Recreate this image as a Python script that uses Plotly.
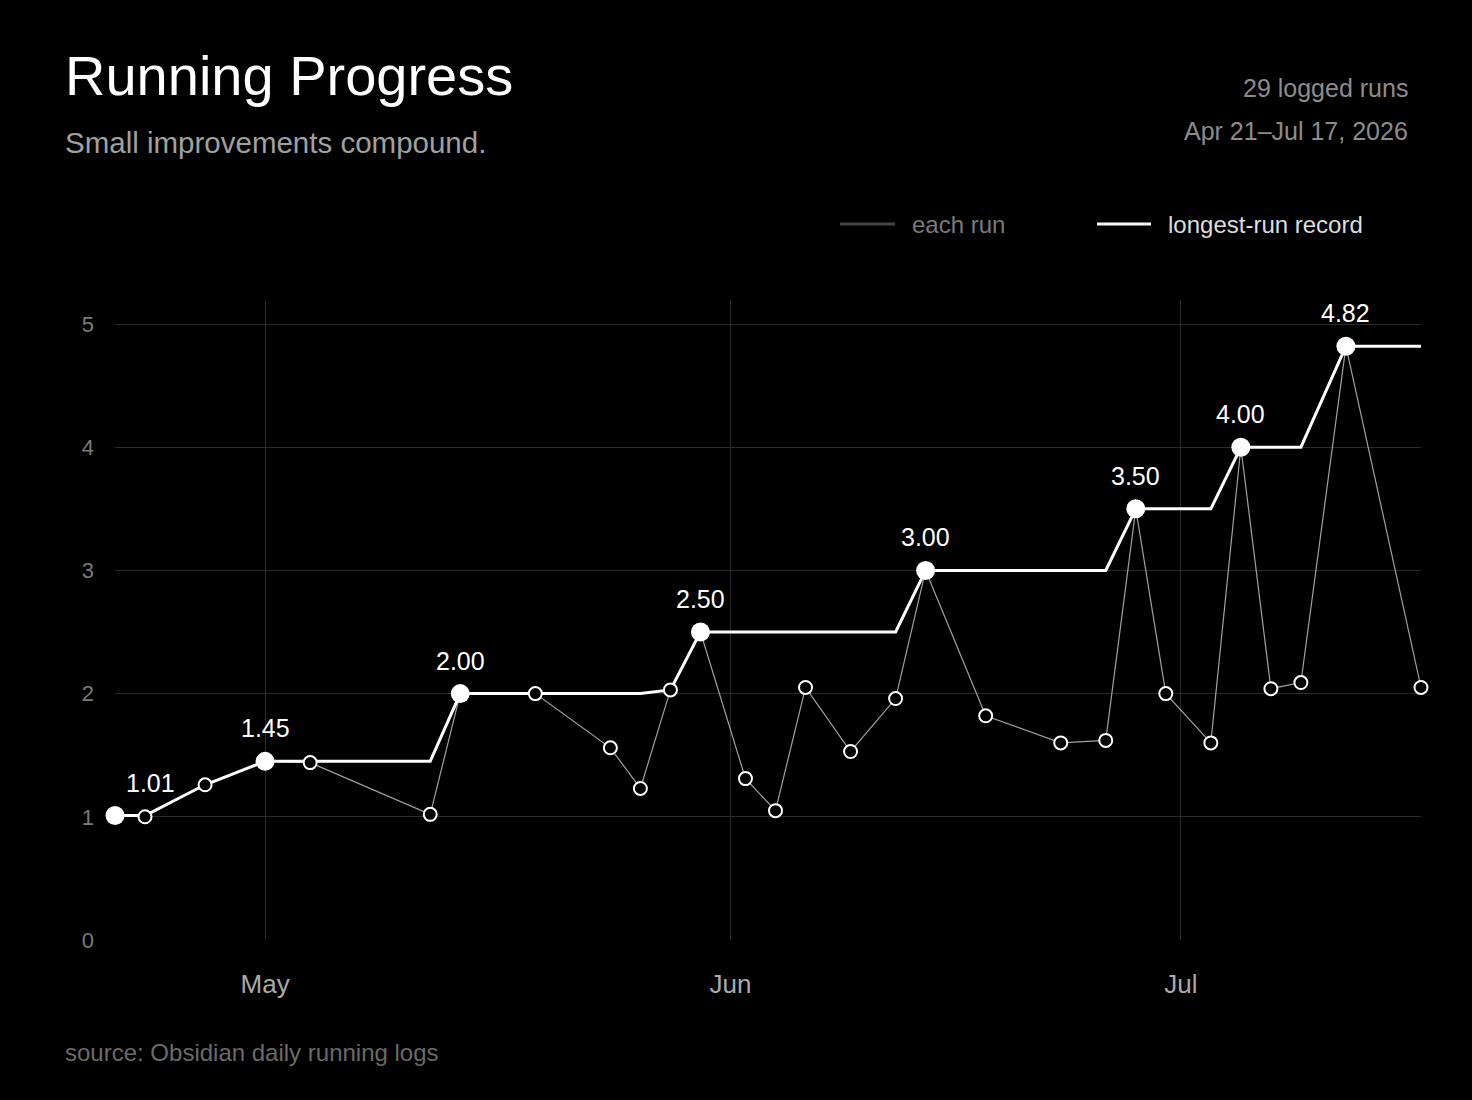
import numpy as np
import plotly.graph_objects as go

# ---- data ----
run_dates = ["2026-04-21", "2026-04-23", "2026-04-27", "2026-05-01", "2026-05-04",
             "2026-05-12", "2026-05-14", "2026-05-19", "2026-05-24", "2026-05-26",
             "2026-05-28", "2026-05-30", "2026-06-02", "2026-06-04", "2026-06-06",
             "2026-06-09", "2026-06-12", "2026-06-14", "2026-06-18", "2026-06-23",
             "2026-06-26", "2026-06-28", "2026-06-30", "2026-07-03", "2026-07-05",
             "2026-07-07", "2026-07-09", "2026-07-12", "2026-07-17"]
run_km = [1.01, 1.00, 1.26, 1.45, 1.44, 1.02, 2.00, 2.00, 1.56, 1.23,
          2.03, 2.50, 1.31, 1.05, 2.05, 1.53, 1.96, 3.00, 1.82, 1.60,
          1.62, 3.50, 2.00, 1.60, 4.00, 2.04, 2.09, 4.82, 2.05]
milestone_idx = [0, 3, 6, 11, 17, 21, 24, 27]
y_ticks = [0, 1, 2, 3, 4, 5]
x_ticks = ["2026-05-01", "2026-06-01", "2026-07-01"]
x_tick_labels = ["May", "Jun", "Jul"]

record = np.maximum.accumulate(np.array(run_km))
ms_dates = [run_dates[i] for i in milestone_idx]
ms_vals = [run_km[i] for i in milestone_idx]

FONT = "Liberation Sans, Arial, Helvetica, sans-serif"

fig = go.Figure()
fig.add_trace(go.Scatter(x=run_dates, y=run_km, mode="lines",
                         line=dict(color="#a0a0a0", width=1.2),
                         showlegend=False, hoverinfo="skip", cliponaxis=False))
fig.add_trace(go.Scatter(x=run_dates, y=record, mode="lines",
                         line=dict(color="#ffffff", width=3),
                         showlegend=False, hoverinfo="skip", cliponaxis=False))
fig.add_trace(go.Scatter(x=run_dates, y=run_km, mode="markers",
                         marker=dict(size=13, color="#000000",
                                     line=dict(color="#ffffff", width=2)),
                         showlegend=False, hoverinfo="skip", cliponaxis=False))
fig.add_trace(go.Scatter(x=ms_dates, y=ms_vals, mode="markers",
                         marker=dict(size=19, color="#ffffff",
                                     line=dict(color="#ffffff", width=0)),
                         showlegend=False, hoverinfo="skip", cliponaxis=False))

annotations = []
for k, (d, v) in enumerate(zip(ms_dates, ms_vals)):
    annotations.append(dict(x=d, y=v, xref="x", yref="y", text=f"{v:.2f}",
                            showarrow=False, yshift=33, xshift=35 if k == 0 else 0,
                            font=dict(family=FONT, size=25, color="#ffffff")))

# plot area: x 115..1421, y 300..940
def px(xp):
    return (xp - 115) / 1306.0

def py(yp):
    return (940 - yp) / 640.0

annotations += [
    dict(x=px(63), y=py(76), xref="paper", yref="paper", text="Running Progress",
         showarrow=False, xanchor="left", yanchor="middle",
         font=dict(family=FONT, size=56, color="#ffffff")),
    dict(x=px(63), y=py(142), xref="paper", yref="paper", text="Small improvements compound.",
         showarrow=False, xanchor="left", yanchor="middle",
         font=dict(family=FONT, size=29.5, color="#a0a0a0")),
    dict(x=px(1410), y=py(88), xref="paper", yref="paper", text="29 logged runs",
         showarrow=False, xanchor="right", yanchor="middle",
         font=dict(family=FONT, size=25, color="#8c8c8c")),
    dict(x=px(1410), y=py(131), xref="paper", yref="paper", text="Apr 21\u2013Jul 17, 2026",
         showarrow=False, xanchor="right", yanchor="middle",
         font=dict(family=FONT, size=25, color="#8c8c8c")),
    dict(x=px(910), y=py(224), xref="paper", yref="paper", text="each run",
         showarrow=False, xanchor="left", yanchor="middle",
         font=dict(family=FONT, size=24, color="#7a7a7a")),
    dict(x=px(1166), y=py(224), xref="paper", yref="paper", text="longest-run record",
         showarrow=False, xanchor="left", yanchor="middle",
         font=dict(family=FONT, size=24, color="#dddddd")),
    dict(x=px(63), y=py(1052), xref="paper", yref="paper", text="source: Obsidian daily running logs",
         showarrow=False, xanchor="left", yanchor="middle",
         font=dict(family=FONT, size=24, color="#6a6a6a")),
]

shapes = [
    dict(type="line", xref="paper", yref="paper", x0=px(840), x1=px(895),
         y0=py(224), y1=py(224), line=dict(color="#444444", width=3)),
    dict(type="line", xref="paper", yref="paper", x0=px(1097), x1=px(1151),
         y0=py(224), y1=py(224), line=dict(color="#ffffff", width=3)),
]

fig.update_layout(
    width=1472, height=1100,
    margin=dict(l=115, r=51, t=300, b=160),
    paper_bgcolor="#000000", plot_bgcolor="#000000",
    font=dict(family=FONT, color="#888888"),
    annotations=annotations, shapes=shapes,
    showlegend=False,
    xaxis=dict(type="date", range=["2026-04-21", "2026-07-17"],
               tickvals=x_ticks, ticktext=x_tick_labels,
               showgrid=True, gridcolor="#2a2a2a", gridwidth=1,
               zeroline=False, showline=False, ticks="",
               tickfont=dict(family=FONT, size=26, color="#aaaaaa"),
               ticklabelstandoff=26, fixedrange=True),
    yaxis=dict(range=[0, 5.195], tickvals=y_ticks,
               showgrid=True, gridcolor="#2a2a2a", gridwidth=1,
               zeroline=False, showline=False, ticks="",
               tickfont=dict(family=FONT, size=22, color="#7a7a7a"),
               ticklabelstandoff=20, fixedrange=True),
)

fig.write_html("out.html")
